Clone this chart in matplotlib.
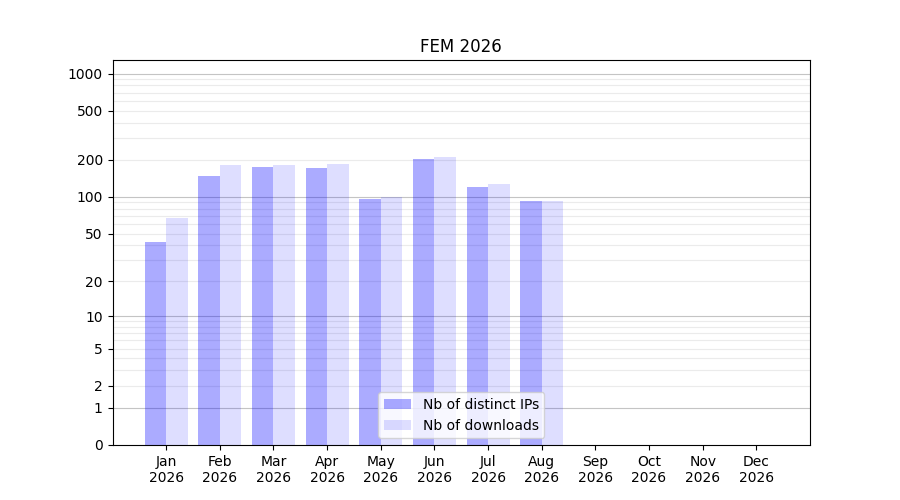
import matplotlib
matplotlib.use('Agg')
import matplotlib.pyplot as plt
import numpy as np

months = ['Jan', 'Feb', 'Mar', 'Apr', 'May', 'Jun', 'Jul', 'Aug', 'Sep', 'Oct', 'Nov', 'Dec']
year = '2026'
ips = [43, 148, 175, 172, 96, 203, 120, 92]
downloads = [67, 182, 181, 185, 100, 211, 127, 92]

yticks = [0, 1, 2, 5, 10, 20, 50, 100, 200, 500, 1000]
major_grid = [1, 10, 100, 1000]
minor_grid = [m * d for d in (1, 10, 100) for m in range(2, 10)]


def fwd(y):
    return np.log10(1 + np.maximum(y, 0))


def inv(y):
    return 10 ** y - 1


fig, ax = plt.subplots(figsize=(9, 5), dpi=100)
ax.set_yscale('function', functions=(fwd, inv))

x = np.arange(len(months))
# IPs left of the tick, downloads right of it
ax.bar(x[:len(ips)], ips, width=-0.4, align='edge', color='blue', alpha=0.33,
       label='Nb of distinct IPs', zorder=2)
ax.bar(x[:len(downloads)], downloads, width=0.4, align='edge', color='blue', alpha=0.13,
       label='Nb of downloads', zorder=2)

for v in minor_grid:
    ax.axhline(v, color='#ebebeb', lw=0.8, zorder=1)
for v in major_grid:
    ax.axhline(v, color='#c4c4c4', lw=0.8, zorder=1)

ax.set_ylim(0, 1286)
ax.set_yticks(yticks)
ax.set_yticklabels([str(t) for t in yticks])
ax.minorticks_off()
ax.set_xlim(-1, 12)
ax.set_xticks(x)
ax.set_xticklabels([m + '\n' + year for m in months])
ax.set_title('FEM 2026')
ax.legend(loc='lower center')

fig.savefig('out.png')
